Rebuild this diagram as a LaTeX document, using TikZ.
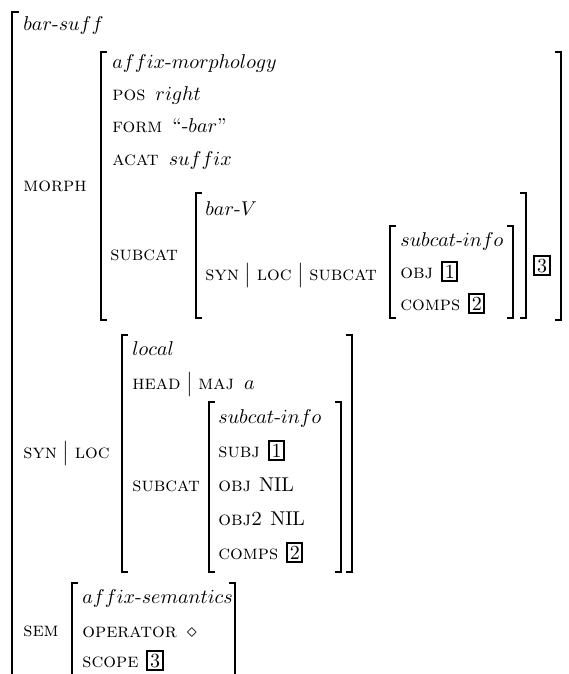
\documentclass[tikz,border=0pt]{standalone}
\usepackage{amsmath}
\usepackage{amssymb}
\newcommand{\hy}{\textrm{-}}
\newcommand{\pth}{\ensuremath{\;\big|\;}}
\newcommand{\tagbox}[1]{{\setlength{\fboxrule}{1pt}\setlength{\fboxsep}{0.8pt}\fbox{\rule{0pt}{6.6pt}#1}}}

\begin{document}
\begin{tikzpicture}[x=0.5pt, y=-0.5pt,
  txt/.style={anchor=base west, inner sep=0pt},
  brk/.style={line width=0.75pt}]
\useasboundingbox (0,0) rectangle (568,674);

% outer matrix
\draw[brk] (19,12) -- (12,12) -- (12,674);
\node[txt] (top) at (23,31) {$bar\hy suff$};
\node[txt] (morph) at (23,191) {\textsc{morph}};
\node[txt] (synloc) at (23,458) {\textsc{syn}\pth\textsc{loc}};
\node[txt] (sem) at (23,636) {\textsc{sem}};

% MORPH value
\draw[brk] (107,52) -- (101,52) -- (101,320) -- (107,320);
\draw[brk] (555,52) -- (561,52) -- (561,320) -- (555,320);
\node[txt] (mtype) at (112,69) {$affix\hy morphology$};
\node[txt] (pos) at (112,101) {\textsc{pos}\hspace{5pt}$right$};
\node[txt] (form) at (112,133) {\textsc{form}\hspace{5pt}``\hy$bar$''};
\node[txt] (acat) at (112,165) {\textsc{acat}\hspace{5pt}$suffix$};
\node[txt] (msub) at (110,260) {\textsc{subcat}};

\draw[brk] (202,193) -- (196,193) -- (196,318) -- (202,318);
\draw[brk] (520,193) -- (526,193) -- (526,318) -- (520,318);
\node[txt] (vtype) at (205,215) {$bar\hy V$};
\node[txt] (vpath) at (205,280) {\textsc{syn}\pth\textsc{loc}\pth\textsc{subcat}};

\draw[brk] (396,226) -- (390,226) -- (390,318) -- (396,318);
\draw[brk] (507,226) -- (513,226) -- (513,318) -- (507,318);
\node[txt] (ctype) at (400,246) {$subcat\hy info$};
\node[txt] (cobj) at (400,278) {\textsc{obj}\hspace{4pt}\tagbox{1}};
\node[txt] (ccomps) at (400,310) {\textsc{comps}\hspace{4pt}\tagbox{2}};
\node[txt] (tagc) at (533,272) {\tagbox{3}};

% SYN|LOC value
\draw[brk] (128,335) -- (122,335) -- (122,572) -- (128,572);
\draw[brk] (346,335) -- (352,335) -- (352,572) -- (346,572);
\node[txt] (ltype) at (132,355) {$local$};
\node[txt] (head) at (132,389) {\textsc{head}\pth\textsc{maj}\hspace{5pt}$a$};
\node[txt] (lsub) at (132,491) {\textsc{subcat}};

\draw[brk] (215,402) -- (209,402) -- (209,572) -- (215,572);
\draw[brk] (335,402) -- (341,402) -- (341,572) -- (335,572);
\node[txt] (stype) at (218,423) {$subcat\hy info$};
\node[txt] (ssubj) at (218,457) {\textsc{subj}\hspace{4pt}\tagbox{1}};
\node[txt] (sobj) at (218,491) {\textsc{obj}\hspace{4pt}NIL};
\node[txt] (sobjb) at (218,525) {\textsc{obj2}\hspace{4pt}NIL};
\node[txt] (scomps) at (218,559) {\textsc{comps}\hspace{4pt}\tagbox{2}};

% SEM value
\draw[brk] (78,583) -- (72,583) -- (72,674);
\draw[brk] (229,583) -- (235,583) -- (235,674);
\node[txt] (etype) at (82,603) {$affix\hy semantics$};
\node[txt] (oper) at (82,637) {\textsc{operator}\hspace{5pt}$\diamond$};
\node[txt] (scope) at (82,667) {\textsc{scope}\hspace{4pt}\tagbox{3}};
\end{tikzpicture}
\end{document}
